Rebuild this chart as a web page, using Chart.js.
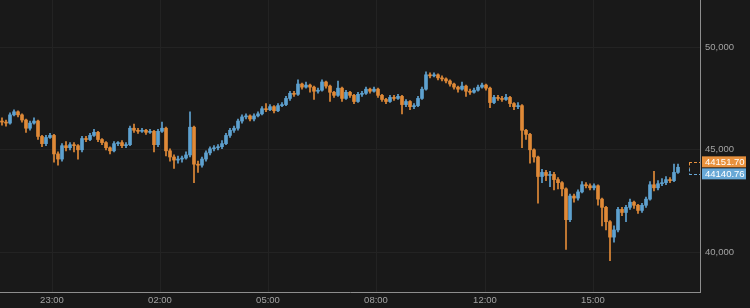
<!DOCTYPE html>
<html>
<head>
<meta charset="utf-8">
<title>Price chart</title>
<script src="https://cdn.jsdelivr.net/npm/chart.js@4.4.1/dist/chart.umd.min.js"></script>
<style>
    html, body { margin: 0; padding: 0; background: #191919; }
    #wrap { width: 750px; height: 308px; }
</style>
</head>
<body>
<div id="wrap"><canvas id="priceChart" width="750" height="308"></canvas></div>
<script>
// candles (one every slot, oldest first)
const opens = [
    46400, 46350, 46300, 46700, 46850, 46700, 46450, 46050, 46300, 46400,
    45650, 45300, 45600, 45700, 44800, 44550, 45200, 45100, 45250, 45200,
    45000, 45550, 45500, 45700, 45850, 45500, 45350, 45100, 44950, 45300,
    45350, 45200, 45250, 46050, 45950, 45900, 45950, 45850, 45900, 45250,
    45900, 46050, 44950, 44650, 44500, 44550, 44600, 44750, 46100, 44300,
    44250, 44550, 44850, 45050, 45100, 45150, 45300, 45700, 45950, 46050,
    46400, 46600, 46650, 46500, 46650, 46750, 47000, 46950, 47100, 46900,
    47150, 47200, 47500, 47750, 47700, 48200, 48050, 48150, 48050, 47850,
    47900, 48300, 48100, 47800, 47650, 48000, 47500, 47800, 47650, 47350,
    47700, 47750, 47950, 47850, 47950, 47650, 47450, 47350, 47550, 47500,
    47600, 47200, 47350, 47100, 47150, 47500, 47950, 48650, 48600, 48650,
    48500, 48450, 48350, 48200, 48050, 47950, 48100, 47850, 47800, 47900,
    48050, 48150, 48000, 47300, 47550, 47500, 47450, 47550, 47250, 47100,
    47150, 45950, 45750, 45000, 44650, 43700, 43900, 43750, 43800, 43550,
    43400, 43100, 41600, 42750, 42650, 42950, 43300, 43250, 43150, 43250,
    42600, 42200, 41500, 40750, 41100, 42100, 41950, 42200, 42450, 42300,
    42050, 42300, 42600, 43300, 43150, 43350, 43400, 43550, 43500, 43900
];
const highs = [
    46550, 46450, 46800, 46950, 46900, 46750, 46500, 46400, 46550, 46450,
    45700, 45700, 45800, 45750, 44900, 45300, 45400, 45350, 45350, 45250,
    45650, 45650, 45800, 46000, 45900, 45550, 45400, 45150, 45400, 45400,
    45450, 45350, 46150, 46250, 46050, 46050, 46000, 46000, 45950, 46000,
    46350, 46100, 45050, 44750, 44700, 44700, 44900, 46850, 46150, 44450,
    44650, 44950, 45150, 45200, 45250, 45450, 45800, 46050, 46150, 46500,
    46700, 46750, 46700, 46750, 46850, 47100, 47250, 47200, 47150, 47250,
    47300, 47600, 47850, 47850, 48400, 48250, 48300, 48200, 48100, 48000,
    48400, 48350, 48150, 47850, 48350, 48050, 47900, 47850, 47700, 47800,
    47850, 48050, 48000, 48050, 48000, 47700, 47500, 47650, 47650, 47700,
    47650, 47450, 47400, 47250, 47600, 48050, 48800, 48750, 48750, 48700,
    48600, 48500, 48400, 48250, 48100, 48300, 48150, 47950, 48000, 48150,
    48250, 48200, 48050, 47650, 47650, 47600, 47700, 47600, 47300, 47300,
    47200, 46000, 45800, 45050, 44700, 44050, 44000, 43950, 43900, 43650,
    43450, 43150, 42850, 42850, 43050, 43450, 43400, 43350, 43350, 43300,
    42650, 42250, 41550, 41300, 42200, 42200, 42300, 42600, 42500, 42350,
    42400, 42700, 43450, 43950, 43500, 43600, 43700, 43650, 44300, 44300
];
const lows = [
    46200, 46150, 46250, 46650, 46600, 46350, 45850, 45950, 46250, 45500,
    45150, 45200, 45550, 44400, 44250, 44450, 44950, 45000, 44900, 44550,
    44900, 45400, 45450, 45650, 45400, 45250, 45000, 44800, 44900, 45200,
    45100, 45100, 45200, 45850, 45800, 45850, 45750, 45800, 44900, 45150,
    45850, 44700, 44450, 44100, 44350, 44400, 44550, 44650, 43400, 43900,
    44150, 44450, 44750, 44950, 45000, 45050, 45250, 45600, 45850, 45950,
    46300, 46500, 46400, 46400, 46600, 46700, 46850, 46900, 46800, 46850,
    47100, 47150, 47400, 47600, 47650, 47950, 48000, 47800, 47450, 47750,
    47850, 48000, 47350, 47550, 47600, 47350, 47450, 47550, 47250, 47300,
    47600, 47700, 47750, 47800, 47550, 47350, 47250, 47300, 47400, 47450,
    46750, 47100, 46950, 47000, 47100, 47450, 47900, 48500, 48550, 48400,
    48350, 48250, 48100, 47950, 47800, 47900, 47600, 47700, 47750, 47850,
    48000, 47900, 47050, 47250, 47400, 47350, 47400, 47100, 46950, 47000,
    45100, 45500, 44350, 44400, 42400, 43400, 43500, 43200, 43050, 43100,
    42750, 40150, 41500, 42450, 42550, 42900, 43150, 43050, 43050, 42300,
    41300, 41100, 39600, 40500, 41000, 41800, 41500, 42100, 42150, 41900,
    41950, 42200, 42550, 43000, 43050, 43250, 43300, 43400, 43450, 43850
];
const closes = [
    46350, 46300, 46700, 46850, 46700, 46450, 46050, 46300, 46400, 45650,
    45300, 45600, 45700, 44800, 44550, 45200, 45100, 45250, 45200, 45000,
    45550, 45500, 45700, 45850, 45500, 45350, 45100, 44950, 45300, 45350,
    45200, 45250, 46050, 45950, 45900, 45950, 45850, 45900, 45250, 45900,
    46050, 44950, 44650, 44500, 44550, 44600, 44750, 46100, 44300, 44250,
    44550, 44850, 45050, 45100, 45150, 45300, 45700, 45950, 46050, 46400,
    46600, 46650, 46500, 46650, 46750, 47000, 46950, 47100, 46900, 47150,
    47200, 47500, 47750, 47700, 48200, 48050, 48150, 48050, 47850, 47900,
    48300, 48100, 47800, 47650, 48000, 47500, 47800, 47650, 47350, 47700,
    47750, 47950, 47850, 47950, 47650, 47450, 47350, 47550, 47500, 47600,
    47200, 47350, 47100, 47150, 47500, 47950, 48650, 48600, 48650, 48500,
    48450, 48350, 48200, 48050, 47950, 48100, 47850, 47800, 47900, 48050,
    48150, 48000, 47300, 47550, 47500, 47450, 47550, 47250, 47100, 47150,
    45950, 45750, 45000, 44650, 43700, 43900, 43750, 43800, 43550, 43400,
    43100, 41600, 42750, 42650, 42950, 43300, 43250, 43150, 43250, 42600,
    42200, 41500, 40750, 41100, 42100, 41950, 42200, 42450, 42300, 42050,
    42300, 42600, 43300, 43150, 43350, 43400, 43550, 43500, 43900, 44150
];

// time axis: label text and the slot it sits on
const timeLabels = ['23:00', '02:00', '05:00', '08:00', '12:00', '15:00'];
const timeSlots = [12.5, 39.5, 66.5, 93.5, 120.75, 147.75];
const slotCount = 175;

// price axis
const priceTicks = [40000, 45000, 50000];
const priceMin = 38080;
const priceMax = 52290;

// last bid / ask tags on the right
const lastQuotes = [44151.70, 44140.76];
const quoteColors = ['#e8913d', '#68a8d6'];

const UP = '#5fa2d0';
const DOWN = '#e08a38';
const FONT = { family: '"Liberation Sans", Arial, sans-serif', size: 9.5 };

const isUp = i => closes[i] >= opens[i];

const bgPlugin = {
    id: 'bg',
    beforeDraw(chart) {
        const c = chart.ctx;
        c.save();
        c.fillStyle = '#191919';
        c.fillRect(0, 0, chart.width, chart.height);
        c.restore();
    }
};

const quotePlugin = {
    id: 'quotes',
    afterDraw(chart) {
        const c = chart.ctx;
        const area = chart.chartArea;
        const mid = chart.scales.y.getPixelForValue((lastQuotes[0] + lastQuotes[1]) / 2);
        const tops = [mid - 11, mid + 1];
        const lineY = tops.map(t => Math.round(t + 5.5) + 0.5);

        c.save();
        c.lineWidth = 1;
        c.setLineDash([3, 2]);
        lastQuotes.forEach((q, k) => {
            c.strokeStyle = quoteColors[k];
            c.beginPath();
            c.moveTo(area.right - 11, lineY[k]);
            c.lineTo(area.right, lineY[k]);
            c.stroke();
        });
        // little bracket joining the two
        c.strokeStyle = quoteColors[0];
        c.beginPath();
        c.moveTo(area.right - 10.5, lineY[0]);
        c.lineTo(area.right - 10.5, (lineY[0] + lineY[1]) / 2);
        c.stroke();
        c.strokeStyle = quoteColors[1];
        c.beginPath();
        c.moveTo(area.right - 10.5, (lineY[0] + lineY[1]) / 2);
        c.lineTo(area.right - 10.5, lineY[1]);
        c.stroke();
        c.setLineDash([]);

        c.font = '9.5px "Liberation Sans", Arial, sans-serif';
        c.textBaseline = 'middle';
        lastQuotes.forEach((q, k) => {
            c.fillStyle = quoteColors[k];
            c.fillRect(area.right + 2, tops[k], 44, 11);
            c.fillStyle = '#ffffff';
            c.fillText(q.toFixed(2), area.right + 5, tops[k] + 6);
        });
        c.restore();
    }
};

const idx = closes.map((_, i) => i);

new Chart(document.getElementById('priceChart'), {
    type: 'bar',
    data: {
        datasets: [
            {
                label: 'wick',
                data: idx.map(i => ({ x: i, y: [lows[i], highs[i]] })),
                backgroundColor: ctx => isUp(ctx.dataIndex) ? UP : DOWN,
                barThickness: 1,
                grouped: false,
                borderWidth: 0
            },
            {
                label: 'body',
                data: idx.map(i => ({ x: i, y: [opens[i], closes[i]] })),
                backgroundColor: ctx => isUp(ctx.dataIndex) ? UP : DOWN,
                barThickness: 3,
                minBarLength: 1,
                grouped: false,
                borderWidth: 0
            }
        ]
    },
    options: {
        responsive: false,
        animation: false,
        layout: { padding: 0 },
        plugins: {
            legend: { display: false },
            tooltip: { enabled: false }
        },
        scales: {
            x: {
                type: 'linear',
                offset: false,
                min: -0.5,
                max: slotCount - 0.5,
                afterBuildTicks: s => { s.ticks = timeSlots.map(v => ({ value: v })); },
                afterFit: s => {
                    s.height = 16;
                    s.paddingLeft = 0;
                    s.paddingRight = 0;
                },
                grid: { color: '#232323', drawTicks: false, offset: false },
                border: { color: '#8e8e8e', width: 1 },
                ticks: {
                    color: '#a3a3a3',
                    font: FONT,
                    padding: 3,
                    maxRotation: 0,
                    autoSkip: false,
                    callback: v => timeLabels[timeSlots.indexOf(v)]
                }
            },
            y: {
                position: 'right',
                min: priceMin,
                max: priceMax,
                afterBuildTicks: s => { s.ticks = priceTicks.map(v => ({ value: v })); },
                afterFit: s => {
                    s.width = 50;
                    s.paddingTop = 0;
                    s.paddingBottom = 0;
                },
                grid: { color: '#232323', drawTicks: false },
                border: { color: '#8e8e8e', width: 1 },
                ticks: {
                    color: '#a3a3a3',
                    font: FONT,
                    padding: 5,
                    callback: v => v.toLocaleString('en-US')
                }
            }
        }
    },
    plugins: [bgPlugin, quotePlugin]
});
</script>
</body>
</html>
